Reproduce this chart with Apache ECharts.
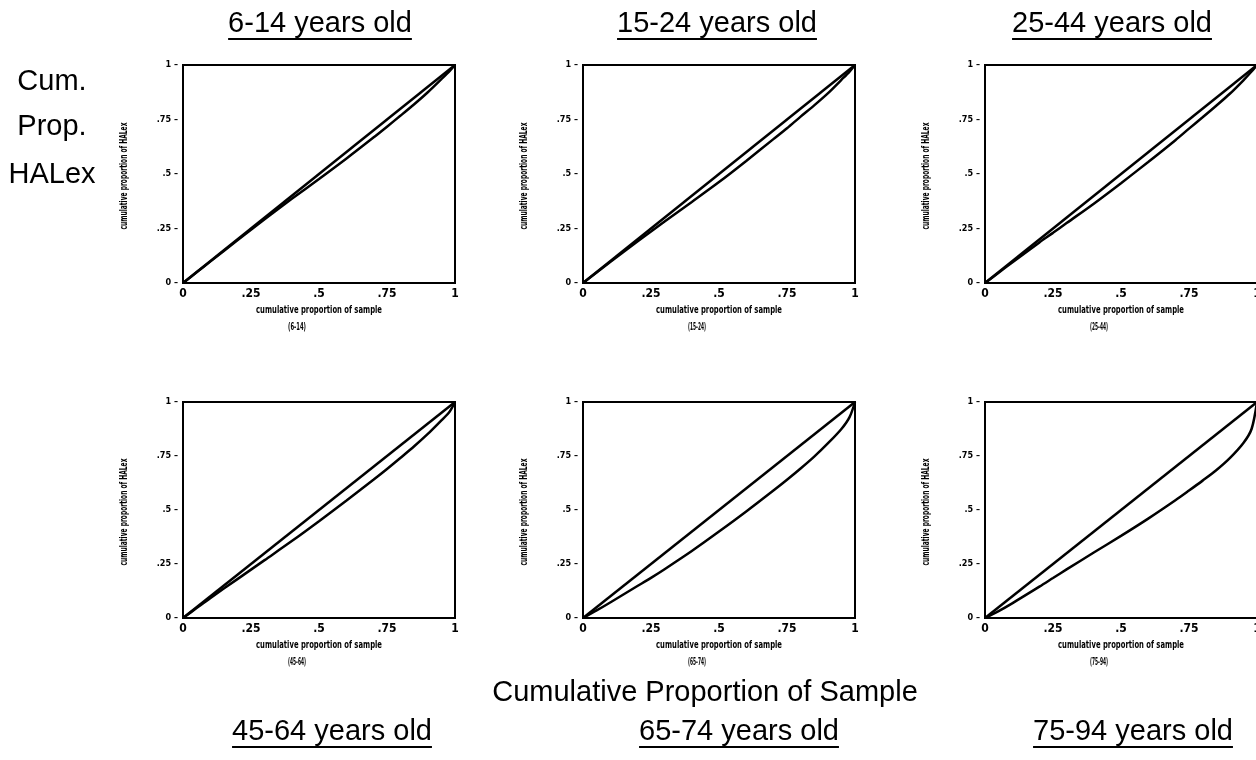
<!DOCTYPE html>
<html>
<head>
<meta charset="utf-8">
<script src="https://cdn.jsdelivr.net/npm/echarts@6/dist/echarts.min.js"></script>
<style>
  html, body { margin: 0; padding: 0; background: #fff; }
  #chart { width: 1256px; height: 760px; }
</style>
</head>
<body>
<div id="chart"></div>
<script>
// === DATA ===
const panelTitles = ['6-14 years old', '15-24 years old', '25-44 years old',
                     '45-64 years old', '65-74 years old', '75-94 years old'];
const panelCodes = ['(6-14)', '(15-24)', '(25-44)', '(45-64)', '(65-74)', '(75-94)'];
const tickValues = [0, 0.25, 0.5, 0.75, 1];
const tickLabels = ['0', '.25', '.5', '.75', '1'];

// line of equality
const diagX = [0, 1];
const diagY = [0, 1];

// cumulative proportion of sample (shared x positions)
const sampleX = [0, 0.05, 0.1, 0.2, 0.25, 0.3, 0.4, 0.5, 0.6, 0.7, 0.75, 0.8, 0.85, 0.9, 0.95, 0.98, 1];

// cumulative proportion of HALex, one array per age group
const halex6to14  = [0, 0.049, 0.098, 0.196, 0.244, 0.292, 0.386, 0.477, 0.570, 0.667, 0.717, 0.768, 0.820, 0.875, 0.935, 0.972, 1];
const halex15to24 = [0, 0.048, 0.096, 0.190, 0.236, 0.282, 0.372, 0.463, 0.560, 0.660, 0.710, 0.763, 0.815, 0.870, 0.932, 0.970, 1];
const halex25to44 = [0, 0.047, 0.094, 0.186, 0.230, 0.275, 0.364, 0.458, 0.555, 0.655, 0.708, 0.760, 0.813, 0.868, 0.930, 0.970, 1];
const halex45to64 = [0, 0.046, 0.092, 0.180, 0.224, 0.268, 0.356, 0.448, 0.543, 0.640, 0.690, 0.742, 0.795, 0.852, 0.915, 0.955, 1];
const halex65to74 = [0, 0.035, 0.072, 0.148, 0.186, 0.226, 0.310, 0.400, 0.493, 0.590, 0.640, 0.692, 0.747, 0.808, 0.875, 0.930, 1];
const halex75to94 = [0, 0.032, 0.068, 0.145, 0.185, 0.225, 0.303, 0.380, 0.460, 0.545, 0.590, 0.636, 0.684, 0.740, 0.810, 0.875, 1];
const halexSeries = [halex6to14, halex15to24, halex25to44, halex45to64, halex65to74, halex75to94];

// === LAYOUT ===
const COL_LEFT = [183, 583, 985];
const ROW_TOP = [65, 402];
const ROW_HEIGHT = [218, 216];
const GRID_W = 272;
const TITLE_FONT = '29px "Liberation Sans", Arial, sans-serif';
const TINY_FONT = 'bold 10px "DejaVu Sans Condensed", sans-serif';

const topTitleX = [320, 717, 1112];
const bottomTitleX = [332, 739, 1133];

const measureCtx = document.createElement('canvas').getContext('2d');
function textWidth(str, font) {
    measureCtx.font = font;
    return measureCtx.measureText(str).width;
}

function tickLabel(v) {
    const i = tickValues.findIndex(t => Math.abs(t - v) < 1e-9);
    return i >= 0 ? tickLabels[i] : '';
}

function pairs(xs, ys) {
    return xs.map((x, i) => [x, ys[i]]);
}

// squeeze a tiny label to a target length (the original is a blocky low-res bitmap)
function tinyText(str, x, y, len, rotation) {
    const s = len / textWidth(str, TINY_FONT);
    return { type: 'text', x: x, y: y, rotation: rotation || 0, scaleX: s, scaleY: 1.1,
             style: { text: str, font: TINY_FONT, fill: '#000', align: 'center', verticalAlign: 'middle' } };
}

const grids = [], xAxes = [], yAxes = [], series = [], graphics = [];

panelTitles.forEach((title, i) => {
    const col = i % 3, row = Math.floor(i / 3);
    const left = COL_LEFT[col], top = ROW_TOP[row], h = ROW_HEIGHT[row];

    grids.push({ left: left, top: top, width: GRID_W, height: h,
                 outerBoundsMode: 'none', containLabel: false,
                 show: true, borderColor: '#000', borderWidth: 2, backgroundColor: 'transparent' });

    xAxes.push({
        type: 'value', gridIndex: i, min: 0, max: 1, interval: 0.25,
        axisLine: { show: false }, axisTick: { show: false }, splitLine: { show: false },
        axisLabel: { color: '#000', fontSize: 12, fontWeight: 'bold', margin: 5,
                     fontFamily: '"DejaVu Sans Condensed", sans-serif', formatter: tickLabel }
    });
    yAxes.push({
        type: 'value', gridIndex: i, min: 0, max: 1, interval: 0.25,
        axisLine: { show: false }, axisTick: { show: false }, splitLine: { show: false },
        axisLabel: { color: '#000', fontSize: 9, fontWeight: 'bold', margin: 5,
                     fontFamily: '"DejaVu Sans Condensed", sans-serif',
                     formatter: v => tickLabel(v) + ' \u2013' }
    });

    series.push({
        type: 'line', xAxisIndex: i, yAxisIndex: i, data: pairs(diagX, diagY),
        symbol: 'none', lineStyle: { color: '#000', width: 2.5 }, silent: true
    });
    series.push({
        type: 'line', xAxisIndex: i, yAxisIndex: i, data: pairs(sampleX, halexSeries[i]),
        symbol: 'none', smooth: 0.3, lineStyle: { color: '#000', width: 2.5 }, silent: true
    });

    // tiny axis titles inside each panel
    graphics.push(tinyText('cumulative proportion of sample', left + GRID_W / 2, top + h + 27, 126));
    graphics.push(tinyText(panelCodes[i], left + GRID_W / 2 - 22, top + h + 44, 18));
    graphics.push(tinyText('cumulative proportion of HALex', left - 59, top + h / 2 + 2, 107, Math.PI / 2));

    // panel headings (underlined)
    const cx = row === 0 ? topTitleX[col] : bottomTitleX[col];
    const ty = row === 0 ? 24 : 732;
    const uy = row === 0 ? 39 : 747;
    const w = textWidth(title, TITLE_FONT);
    graphics.push({ type: 'text', x: cx, y: ty,
        style: { text: title, font: TITLE_FONT, fill: '#000', align: 'center', verticalAlign: 'middle' } });
    graphics.push({ type: 'line', shape: { x1: cx - w / 2, y1: uy, x2: cx + w / 2, y2: uy },
        style: { stroke: '#000', lineWidth: 2 } });
});

// shared labels
['Cum.', 'Prop.', 'HALex'].forEach((t, k) => {
    graphics.push({ type: 'text', x: 52, y: [82, 127, 175][k],
        style: { text: t, font: TITLE_FONT, fill: '#000', align: 'center', verticalAlign: 'middle' } });
});
graphics.push({ type: 'text', x: 705, y: 693,
    style: { text: 'Cumulative Proportion of Sample', font: TITLE_FONT, fill: '#000',
             align: 'center', verticalAlign: 'middle' } });

const chart = echarts.init(document.getElementById('chart'), null, { renderer: 'canvas' });
chart.setOption({
    backgroundColor: '#fff',
    animation: false,
    grid: grids,
    xAxis: xAxes,
    yAxis: yAxes,
    series: series,
    graphic: graphics
});
</script>
</body>
</html>
